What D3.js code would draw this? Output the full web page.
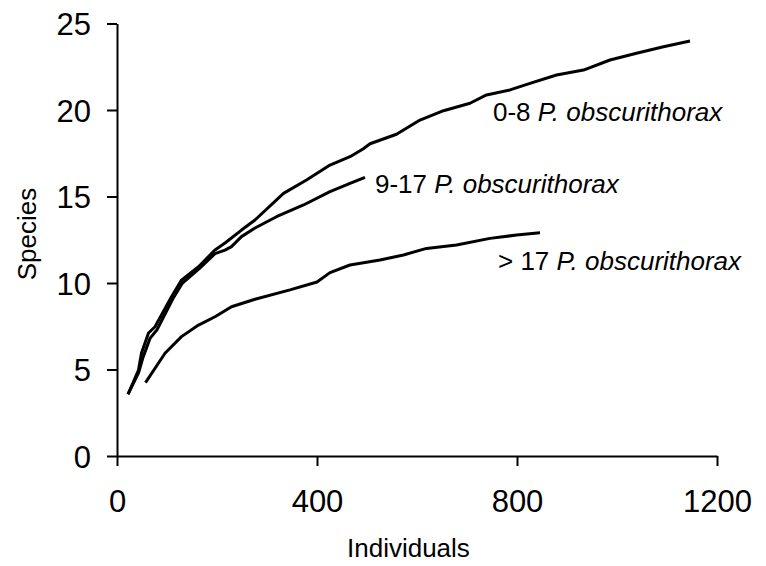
<!DOCTYPE html>
<html>
<head>
<meta charset="utf-8">
<script src="https://cdn.jsdelivr.net/npm/d3@7"></script>
<style>
  body { margin: 0; background: #fff; }
  text { font-family: "Liberation Sans", Arial, sans-serif; fill: #000; }
</style>
</head>
<body>
<script>
// rarefaction curves, species vs individuals

// series
var x08 = [22, 43, 49, 63, 76, 109, 129, 163, 196, 216, 249, 276, 333, 379, 426, 466, 492, 506, 559, 606, 653, 706, 739, 786, 826, 879, 933, 986, 1039, 1093, 1146];
var y08 = [3.57, 4.97, 5.95, 7.11, 7.47, 9.21, 10.17, 10.94, 11.91, 12.31, 13.06, 13.64, 15.18, 15.95, 16.82, 17.3, 17.75, 18.05, 18.6, 19.42, 19.96, 20.39, 20.87, 21.16, 21.54, 22.02, 22.31, 22.89, 23.28, 23.66, 23.99];

var x917 = [22, 43, 52, 66, 80, 112, 131, 165, 196, 216, 229, 249, 276, 319, 373, 426, 466, 496];
var y917 = [3.57, 4.8, 5.7, 6.8, 7.3, 9.1, 10.0, 10.85, 11.7, 11.9, 12.1, 12.68, 13.18, 13.83, 14.51, 15.28, 15.76, 16.11];

var x17 = [57, 96, 129, 163, 196, 229, 276, 346, 400, 426, 466, 526, 573, 619, 679, 746, 799, 846];
var y17 = [4.24, 5.94, 6.9, 7.57, 8.05, 8.63, 9.06, 9.6, 10.06, 10.6, 11.04, 11.33, 11.62, 12.0, 12.2, 12.58, 12.77, 12.9];

var seriesNames = ["0-8", "9-17", "> 17"];
var xTicks = [0, 400, 800, 1200];
var yTicks = [0, 5, 10, 15, 20, 25];

var width = 766, height = 566;

var svg = d3.select("body").append("svg")
    .attr("width", width)
    .attr("height", height);

var x = d3.scaleLinear().domain([0, 1200]).range([117, 717]);
var y = d3.scaleLinear().domain([0, 25]).range([456, 23.5]);

//axes
var yAxis = svg.append("g")
    .attr("transform", "translate(117,0)")
    .call(d3.axisLeft(y).tickValues(yTicks).tickSize(10).tickPadding(16).tickSizeOuter(0));
var xAxis = svg.append("g")
    .attr("transform", "translate(0,456)")
    .call(d3.axisBottom(x).tickValues(xTicks).tickFormat(d3.format("d")).tickSize(10).tickPadding(24).tickSizeOuter(0));

[xAxis, yAxis].forEach(function(g){
    g.selectAll("path, line").attr("stroke", "#000").attr("stroke-width", 2);
    g.selectAll("text").style("font-size", "31px").style("font-family", '"Liberation Sans", Arial, sans-serif');
});
yAxis.selectAll("text").attr("dy", "0.36em");

//axis titles
svg.append("text")
    .attr("x", 347).attr("y", 557)
    .style("font-size", "26px")
    .text("Individuals");
svg.append("text")
    .attr("transform", "translate(36,234) rotate(-90)")
    .attr("text-anchor", "middle")
    .style("font-size", "26px")
    .text("Species");

//curves
var line = d3.line()
    .x(function(d){ return x(d[0]); })
    .y(function(d){ return y(d[1]); });

var series = [d3.zip(x08, y08), d3.zip(x917, y917), d3.zip(x17, y17)];
svg.selectAll(".curve")
    .data(series)
    .enter()
    .append("path")
    .attr("class", "curve")
    .attr("d", line)
    .attr("fill", "none")
    .attr("stroke", "#000")
    .attr("stroke-width", 3)
    .attr("stroke-linejoin", "round");

//labels
var labelPos = [[493, 121], [375, 193], [498, 270]];
seriesNames.forEach(function(name, i){
    var t = svg.append("text")
        .attr("x", labelPos[i][0])
        .attr("y", labelPos[i][1])
        .style("font-size", "26px");
    t.append("tspan").text(name + " ");
    t.append("tspan").style("font-style", "italic").text("P. obscurithorax");
});
</script>
</body>
</html>
